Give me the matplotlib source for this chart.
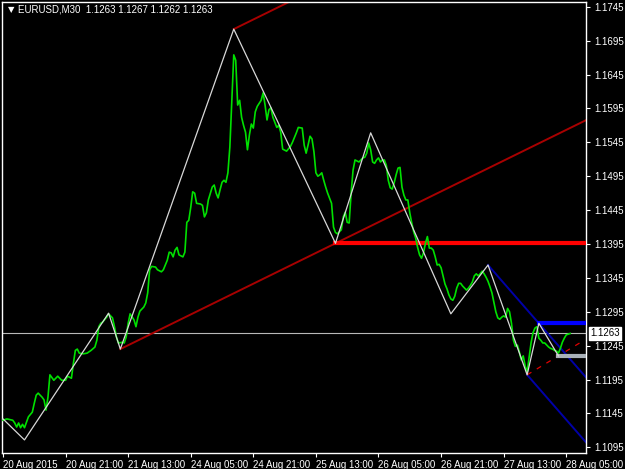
import numpy as np
import matplotlib
matplotlib.use("Agg")
import matplotlib.pyplot as plt

plt.rcParams['font.family'] = ['Liberation Sans', 'DejaVu Sans']

# M30 closes (bar index, price)
bars = [0, 2, 5, 6, 7, 8, 9, 10, 11, 13,
        15, 16, 17, 18, 20, 21, 22, 23, 24, 26,
        27, 28, 30, 32, 33, 35, 36, 37, 38, 39,
        41, 43, 45, 47, 48, 49, 50, 51, 53, 54,
        56, 57, 58, 59, 61, 62, 63, 64, 65, 67,
        68, 69, 70, 72, 73, 74, 75, 76, 78, 79,
        81, 82, 84, 85, 86, 87, 88, 89, 90, 92,
        93, 94, 95, 96, 97, 98, 99, 101, 102, 103,
        104, 105, 107, 108, 109, 110, 111, 112, 113, 114,
        115, 116, 117, 118, 119, 120, 121, 122, 123, 124,
        125, 126, 127, 128, 129, 130, 132, 133, 134, 135,
        136, 137, 138, 140, 141, 142, 143, 145, 147, 148,
        150, 151, 153, 154, 155, 156, 157, 158, 159, 160,
        161, 162, 163, 164, 165, 166, 168, 169, 170, 171,
        173, 174, 175, 176, 177, 178, 179, 180, 182, 184] + list(range(185, 291))

closes = [1.1135, 1.1137, 1.1135, 1.1131, 1.1125, 1.1131, 1.1124, 1.1129, 1.1124, 1.1140,
          1.1147, 1.1160, 1.1172, 1.1175, 1.1169, 1.1165, 1.1150, 1.1169, 1.1202, 1.1194,
          1.1197, 1.1200, 1.1194, 1.1194, 1.1200, 1.1197, 1.1219, 1.1238, 1.1240, 1.1234,
          1.1233, 1.1234, 1.1238, 1.1243, 1.1253, 1.1273, 1.1278, 1.1280, 1.1287, 1.1292,
          1.1286, 1.1273, 1.1258, 1.1249, 1.1250, 1.1249, 1.1258, 1.1278, 1.1292, 1.1283,
          1.1273, 1.1287, 1.1296, 1.1302, 1.1308, 1.1323, 1.1357, 1.1362, 1.1361, 1.1357,
          1.1354, 1.1357, 1.1371, 1.1383, 1.1382, 1.1376, 1.1386, 1.1390, 1.1379, 1.1376,
          1.1383, 1.1427, 1.1430, 1.1449, 1.1472, 1.1470, 1.1455, 1.1454, 1.1452, 1.1435,
          1.1441, 1.1460, 1.1479, 1.1482, 1.1470, 1.1463, 1.1475, 1.1486, 1.1489, 1.1486,
          1.1500, 1.1538, 1.1607, 1.1674, 1.1666, 1.1600, 1.1607, 1.1582, 1.1570, 1.1560,
          1.1534, 1.1556, 1.1572, 1.1566, 1.1590, 1.1598, 1.1607, 1.1618, 1.1600, 1.1578,
          1.1593, 1.1596, 1.1582, 1.1567, 1.1570, 1.1560, 1.1535, 1.1532, 1.1539, 1.1545,
          1.1559, 1.1567, 1.1566, 1.1541, 1.1529, 1.1541, 1.1554, 1.1550, 1.1531, 1.1500,
          1.1495, 1.1497, 1.1500, 1.1489, 1.1479, 1.1470, 1.1455, 1.1420, 1.1412, 1.1410,
          1.1416, 1.1435, 1.1442, 1.1427, 1.1426, 1.1470, 1.1504, 1.1519, 1.1516, 1.1522,
          # 185 .. 290
          1.1523, 1.1529, 1.1544, 1.1534, 1.1516, 1.1514, 1.1519, 1.1522, 1.1516, 1.1519,
          1.1519, 1.1511, 1.1489, 1.1478, 1.1476, 1.1485, 1.1497, 1.1507, 1.1508, 1.1479,
          1.1467, 1.1460, 1.1460, 1.1441, 1.1426, 1.1413, 1.1404, 1.1390, 1.1379, 1.1374,
          1.1382, 1.1396, 1.1406, 1.1389, 1.1389, 1.1386, 1.1376, 1.1364, 1.1365, 1.1360,
          1.1348, 1.1336, 1.1329, 1.1320, 1.1314, 1.1312, 1.1318, 1.1330, 1.1337, 1.1337,
          1.1333, 1.1330, 1.1327, 1.1330, 1.1334, 1.1339, 1.1348, 1.1351, 1.1348, 1.1351,
          1.1355, 1.1351, 1.1346, 1.1340, 1.1332, 1.1323, 1.1309, 1.1295, 1.1286, 1.1284,
          1.1287, 1.1289, 1.1287, 1.1300, 1.1295, 1.1278, 1.1253, 1.1244, 1.1246, 1.1236,
          1.1224, 1.1230, 1.1215, 1.1206, 1.1228, 1.1249, 1.1264, 1.1271, 1.1273, 1.1256,
          1.1253, 1.1249, 1.1249, 1.1246, 1.1243, 1.1241, 1.1240, 1.1238, 1.1237, 1.1234,
          1.1241, 1.1250, 1.1256, 1.1261, 1.1262, 1.1263]

# zigzag turning points (bar, price)
zz_bars = [0, 11, 54, 60, 118, 170, 188, 229, 248, 268, 274, 284]
zz_prices = [1.1137, 1.1106, 1.1293, 1.1240, 1.1712, 1.1396, 1.1559, 1.1292,
             1.1364, 1.1202, 1.1278, 1.1230]

bid = 1.1263
header = "EURUSD,M30  1.1263 1.1267 1.1262 1.1263"
x_labels = ["20 Aug 2015", "20 Aug 21:00", "21 Aug 13:00", "24 Aug 05:00",
            "24 Aug 21:00", "25 Aug 13:00", "26 Aug 05:00", "26 Aug 21:00",
            "27 Aug 13:00", "28 Aug 05:00"]
x_ticks = [0, 32, 64, 96, 128, 160, 192, 224, 256, 288]
y_ticks = [1.1095, 1.1145, 1.1195, 1.1245, 1.1295, 1.1345, 1.1395, 1.1445,
           1.1495, 1.1545, 1.1595, 1.1645, 1.1695, 1.1745]

x_end = 298

fig = plt.figure(figsize=(6.25, 4.69), dpi=100, facecolor='black')
ax = fig.add_axes([2/625, 16/469, 584/625, 451/469])
ax.set_facecolor('black')
ax.set_xlim(-0.5, 298.1)
ax.set_ylim(1.10867, 1.1752)

def line_from(b1, p1, b2, p2, start, end):
    k = (p2 - p1) / (b2 - b1)
    return [start, end], [p1 + k*(start - b1), p1 + k*(end - b1)]

zb = zz_bars
zp = zz_prices

# bid line
ax.axhline(bid, color='#b8b8b8', lw=0.8, zorder=1)

# red trend channel through lows
xs, ys = line_from(zb[3], zp[3], zb[5], zp[5], zb[3], x_end)
ax.plot(xs, ys, color='#a80000', lw=1.4, zorder=2)
k = (zp[5] - zp[3]) / (zb[5] - zb[3])
ax.plot([zb[4], x_end], [zp[4], zp[4] + k*(x_end - zb[4])], color='#a80000', lw=1.4, zorder=2)

# blue down channel
xs, ys = line_from(zb[8], zp[8], zb[10], zp[10], zb[8], x_end)
ax.plot(xs, ys, color='#0000a8', lw=1.4, zorder=2)
k2 = (zp[10] - zp[8]) / (zb[10] - zb[8])
ax.plot([zb[9], x_end], [zp[9], zp[9] + k2*(x_end - zb[9])], color='#0000a8', lw=1.4, zorder=2)

# dashed red from last lows
xs, ys = line_from(zb[9], zp[9], zb[11], zp[11], zb[9], 296)
ax.plot(xs, ys, color='#e00000', lw=0.9, ls=(0, (4, 5)), zorder=2)

# horizontal levels
ax.plot([zb[5], x_end + 1], [zp[5], zp[5]], color='#ff0000', lw=3, zorder=3)
ax.plot([zb[10], x_end + 1], [zp[10], zp[10]], color='#0000ff', lw=3, zorder=3)
ax.plot([zb[11], x_end + 1], [zp[11], zp[11]], color='#a8b0b8', lw=3, zorder=3)

# price and zigzag
ax.plot(bars, closes, color='#00e000', lw=1.2, zorder=4)
ax.plot(zz_bars, zz_prices, color='#d8d8d8', lw=0.9, zorder=5)

for s in ax.spines.values():
    s.set_color('white')
    s.set_linewidth(1)

ax.yaxis.tick_right()
ax.set_yticks(y_ticks)
ax.set_yticklabels(["%.4f" % v for v in y_ticks])
ax.set_xticks(x_ticks)
ax.set_xticklabels(x_labels, ha='left')
ax.tick_params(colors='white', labelsize=7, length=3, width=0.8, pad=2)
ax.tick_params(axis='y', pad=3)

# current price box
ax.annotate("%.4f" % bid, xy=(1, bid), xycoords=('axes fraction', 'data'),
            xytext=(3, 0), textcoords='offset points', va='center', ha='left',
            fontsize=7, color='black', annotation_clip=False,
            bbox=dict(boxstyle='square,pad=0.15', fc='white', ec='white'))

fig.text(8/625, 1 - 10/469, "\u25bc", color='white', fontsize=6, va='center',
         family=['DejaVu Sans'])
fig.text(18/625, 1 - 10/469, header, color='white', fontsize=7, va='center')

fig.savefig("out.png", dpi=100, facecolor='black')
